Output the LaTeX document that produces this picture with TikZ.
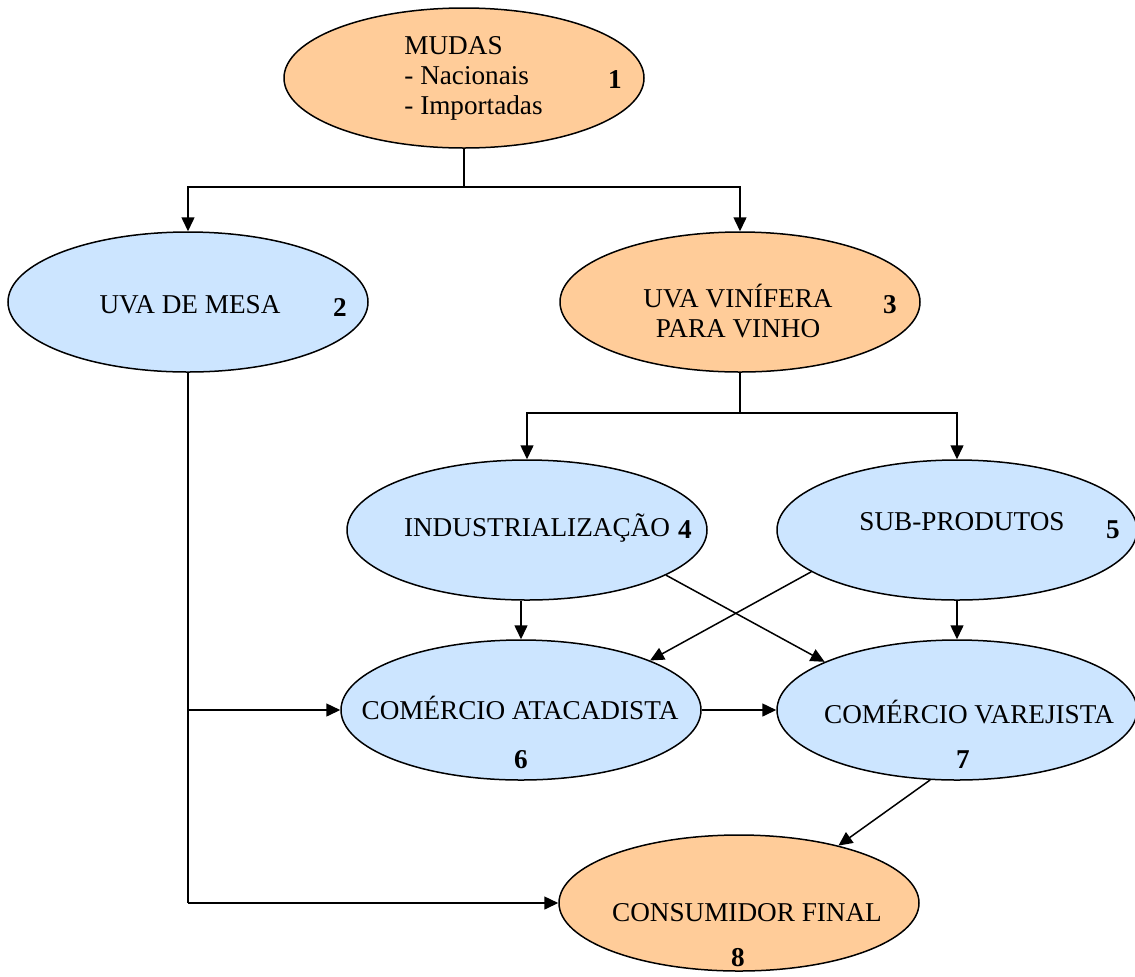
\documentclass[tikz,border=0pt]{standalone}
\usepackage{fontspec}
\setmainfont{Liberation Serif}
\usetikzlibrary{shapes.geometric,arrows.meta}
\definecolor{peach}{HTML}{FFCC99}
\definecolor{paleblue}{HTML}{CCE5FF}
\begin{document}
\begin{tikzpicture}[x=0.5pt,y=-0.5pt,
  ell/.style={ellipse,draw,line width=0.75pt,inner sep=0pt,
    minimum width=180pt,minimum height=70pt},
  orange/.style={ell,fill=peach},
  blue/.style={ell,fill=paleblue},
  lbl/.style={inner sep=0pt,font=\fontsize{13.6}{15}\selectfont},
  num/.style={inner sep=0pt,font=\fontsize{13.6}{15}\selectfont\bfseries},
  link/.style={line width=0.75pt},
  arr/.style={link,-{Triangle[length=7pt,width=6.5pt]}}]
\useasboundingbox (0,0) rectangle (1135,976);
\fill[white] (0,0) rectangle (1135,976);

% ellipses
\node[orange] (n1) at (464,78) {};
\node[blue]   (n2) at (188,302) {};
\node[orange] (n3) at (740,302) {};
\node[blue]   (n4) at (527,530) {};
\node[blue]   (n5) at (957,530) {};
\node[blue]   (n6) at (521,710) {};
\node[blue]   (n7) at (957,710) {};
\node[orange,minimum height=68pt] (n8) at (739,903) {};

% labels
\node[lbl,anchor=west,align=left] (t1) at (404,78) {MUDAS\\- Nacionais\\- Importadas};
\node[num] (k1) at (615,80) {1};
\node[lbl] (t2) at (190,305) {UVA DE MESA};
\node[num] (k2) at (340,307) {2};
\node[lbl,align=center] (t3) at (738,311) {UVA VINÍFERA\\PARA VINHO};
\node[num] (k3) at (890,305) {3};
\node[lbl] (t4) at (537,528) {INDUSTRIALIZAÇÃO};
\node[num] (k4) at (685,530) {4};
\node[lbl] (t5) at (962,522) {SUB-PRODUTOS};
\node[num] (k5) at (1113,530) {5};
\node[lbl] (t6) at (520,708) {COMÉRCIO ATACADISTA};
\node[num] (k6) at (521,760) {6};
\node[lbl] (t7) at (969,712) {COMÉRCIO VAREJISTA};
\node[num] (k7) at (963,760) {7};
\node[lbl] (t8) at (747,913) {CONSUMIDOR FINAL};
\node[num] (k8) at (738,958) {8};

% forks
\coordinate (j1) at (n1.south |- 0,187);
\coordinate (j3) at (n3.south |- 0,413);
\draw[link] (n1.south) -- (j1);
\draw[arr] (j1) -| (n2.north);
\draw[arr] (j1) -| (n3.north);
\draw[link] (n3.south) -- (j3);
\draw[arr] (j3) -| (n4.north);
\draw[arr] (j3) -| (n5.north);

% processing to trade
\draw[arr] (n6.north |- n4.south) -- (n6.north);
\draw[arr] (n7.north |- n5.south) -- (n7.north);
\draw[arr] (n4.-18) -- (n7.160);
\draw[arr] (n5.-164) -- (n6.21);
\draw[arr] (n6.east) -- (n7.west);
\draw[arr] (n7.-111) -- (n8.30);

% table grapes straight to trade and consumer
\draw[link] (n2.south) -- (n2.south |- n8.west);
\draw[arr] (n2.south |- n6.west) -- (n6.west);
\draw[arr] (n2.south |- n8.west) -- (n8.west);
\end{tikzpicture}
\end{document}
